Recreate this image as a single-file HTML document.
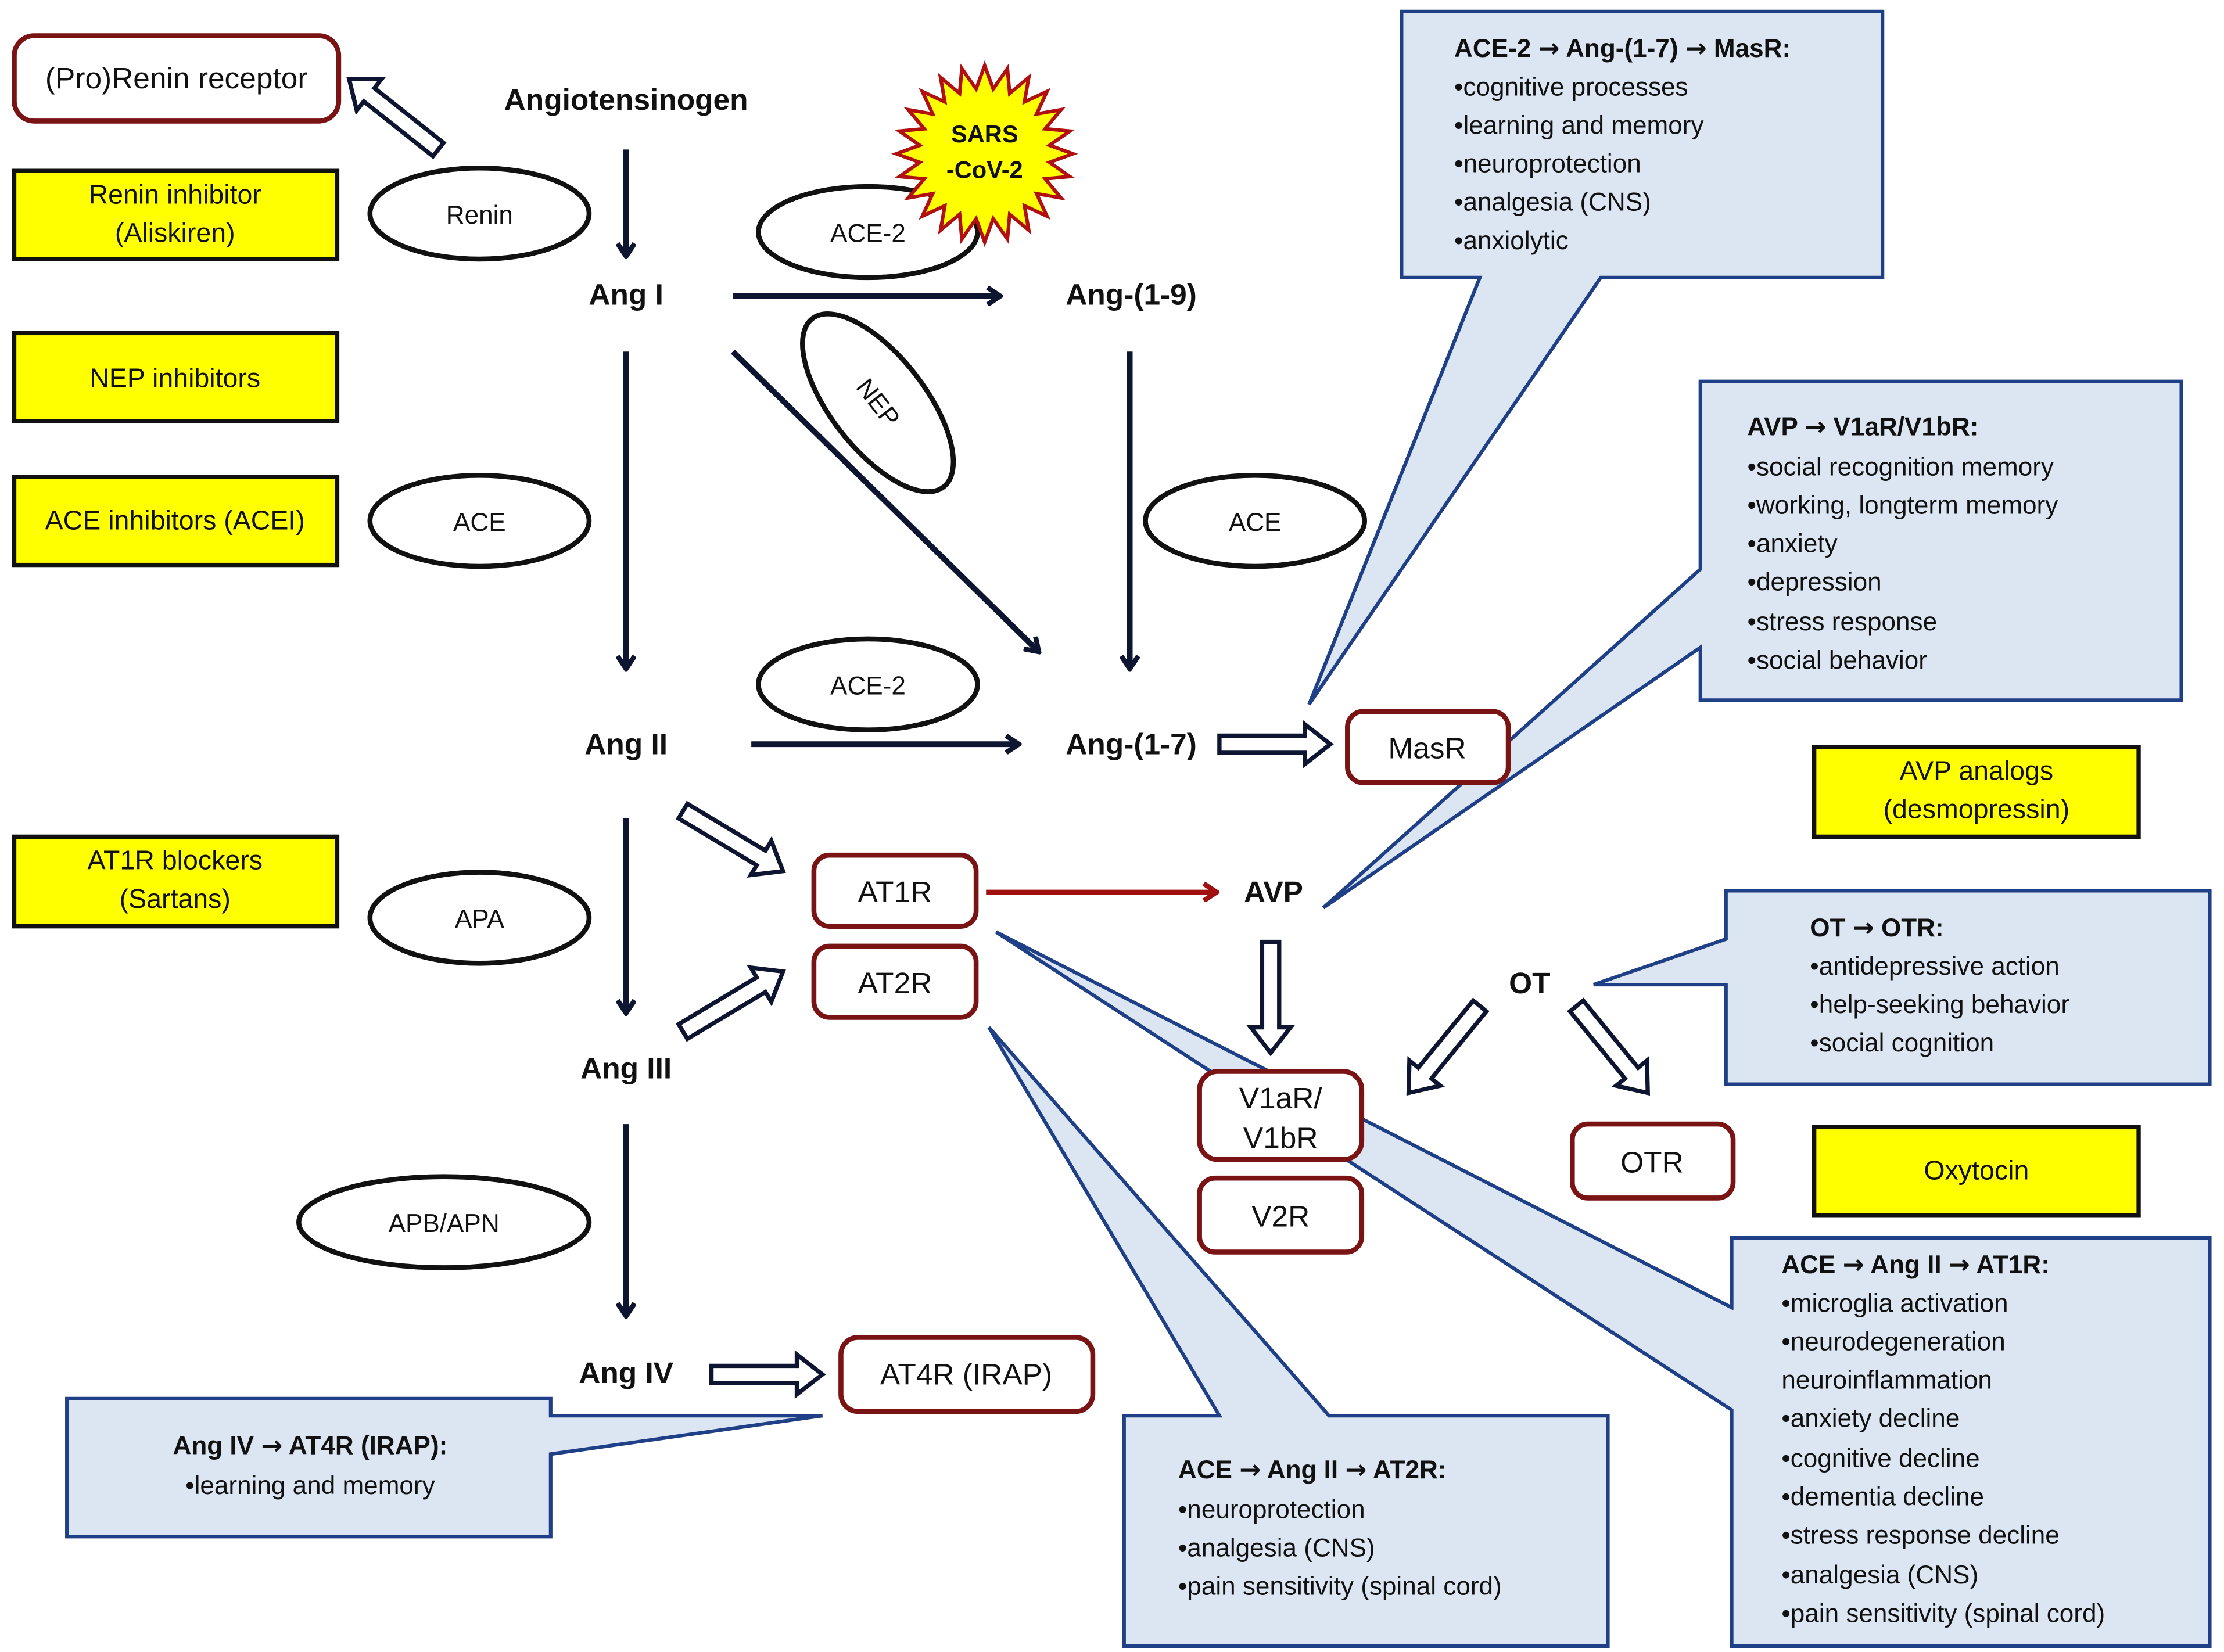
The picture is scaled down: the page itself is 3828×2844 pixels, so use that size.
<!DOCTYPE html>
<html><head><meta charset="utf-8"><style>
html,body{margin:0;padding:0;background:#fff;}
svg{display:block;}
text{font-family:"Liberation Sans",sans-serif;}
.ar{font-family:"DejaVu Sans",sans-serif;}
</style></head><body>
<svg width="3828" height="2844" viewBox="0 0 1563 1161" xmlns="http://www.w3.org/2000/svg">
<defs>
<marker id="ah" markerWidth="12" markerHeight="14" refX="10" refY="7" orient="auto" markerUnits="userSpaceOnUse">
<path d="M1,1 L10,7 L1,13" fill="none" stroke="#0d1530" stroke-width="3.5"/>
</marker>
<marker id="ahr" markerWidth="12" markerHeight="14" refX="10" refY="7" orient="auto" markerUnits="userSpaceOnUse">
<path d="M1,1 L10,7 L1,13" fill="none" stroke="#a01010" stroke-width="3.5"/>
</marker>
</defs>
<rect width="1563" height="1161" fill="#fff"/>

<!-- callouts -->
<g fill="#dce6f2" stroke="#1f3f86" stroke-width="2.5" stroke-linejoin="miter">
<polygon points="985,8 1323,8 1323,195 1125,195 920,495 1040,195 985,195"/>
<polygon points="1195,268 1533,268 1533,492 1195,492 1195,455 930,638 1195,400"/>
<polygon points="1213,626 1553,626 1553,762 1213,762 1213,692 1120,692 1213,660"/>
<polygon points="1217,870 1553,870 1553,1157 1217,1157 1217,991 700,655 1217,919"/>
<polygon points="790,995 857,995 695,722 934,995 1130,995 1130,1157 790,1157"/>
<polygon points="47,983 387,983 387,995 578,995 387,1022 387,1080 47,1080"/>
</g>

<g font-size="18" fill="#111">
<text x="1022" y="40" font-weight="bold">ACE-2 <tspan class="ar">→</tspan> Ang-(1-7) <tspan class="ar">→</tspan> MasR:</text>
<text x="1022" y="67">•cognitive processes</text>
<text x="1022" y="94">•learning and memory</text>
<text x="1022" y="121">•neuroprotection</text>
<text x="1022" y="148">•analgesia (CNS)</text>
<text x="1022" y="175">•anxiolytic</text>

<text x="1228" y="306" font-weight="bold">AVP <tspan class="ar">→</tspan> V1aR/V1bR:</text>
<text x="1228" y="334">•social recognition memory</text>
<text x="1228" y="361">•working, longterm memory</text>
<text x="1228" y="388">•anxiety</text>
<text x="1228" y="415">•depression</text>
<text x="1228" y="443">•stress response</text>
<text x="1228" y="470">•social behavior</text>

<text x="1272" y="658" font-weight="bold">OT <tspan class="ar">→</tspan> OTR:</text>
<text x="1272" y="685">•antidepressive action</text>
<text x="1272" y="712">•help-seeking behavior</text>
<text x="1272" y="739">•social cognition</text>

<text x="1252" y="895" font-weight="bold">ACE <tspan class="ar">→</tspan> Ang II <tspan class="ar">→</tspan> AT1R:</text>
<text x="1252" y="922">•microglia activation</text>
<text x="1252" y="949">•neurodegeneration</text>
<text x="1252" y="976">neuroinflammation</text>
<text x="1252" y="1003">•anxiety decline</text>
<text x="1252" y="1031">•cognitive decline</text>
<text x="1252" y="1058">•dementia decline</text>
<text x="1252" y="1085">•stress response decline</text>
<text x="1252" y="1113">•analgesia (CNS)</text>
<text x="1252" y="1140">•pain sensitivity (spinal cord)</text>

<text x="828" y="1039" font-weight="bold">ACE <tspan class="ar">→</tspan> Ang II <tspan class="ar">→</tspan> AT2R:</text>
<text x="828" y="1067">•neuroprotection</text>
<text x="828" y="1094">•analgesia (CNS)</text>
<text x="828" y="1121">•pain sensitivity (spinal cord)</text>

<text x="218" y="1022" font-weight="bold" text-anchor="middle">Ang IV  <tspan class="ar">→</tspan> AT4R (IRAP):</text>
<text x="218" y="1050" text-anchor="middle">•learning and memory</text>
</g>

<!-- yellow boxes -->
<g fill="#ffff00" stroke="#111" stroke-width="3">
<rect x="10" y="120" width="227" height="62"/>
<rect x="10" y="234" width="227" height="62"/>
<rect x="10" y="335" width="227" height="62"/>
<rect x="10" y="588" width="227" height="63"/>
<rect x="1275" y="525" width="228" height="63"/>
<rect x="1275" y="792" width="228" height="62"/>
</g>
<g font-size="19" fill="#111" text-anchor="middle">
<text x="123" y="143">Renin inhibitor</text>
<text x="123" y="170">(Aliskiren)</text>
<text x="123" y="272">NEP inhibitors</text>
<text x="123" y="372">ACE inhibitors (ACEI)</text>
<text x="123" y="611">AT1R blockers</text>
<text x="123" y="638">(Sartans)</text>
<text x="1389" y="548">AVP analogs</text>
<text x="1389" y="575">(desmopressin)</text>
<text x="1389" y="829">Oxytocin</text>
</g>

<!-- ellipses -->
<g fill="#fff" stroke="#111" stroke-width="3.5">
<ellipse cx="337" cy="150" rx="77" ry="32"/>
<ellipse cx="610" cy="163" rx="77" ry="32"/>
<ellipse cx="617" cy="283" rx="75" ry="33" transform="rotate(52 617 283)"/>
<ellipse cx="337" cy="366" rx="77" ry="32"/>
<ellipse cx="882" cy="366" rx="77" ry="32"/>
<ellipse cx="610" cy="481" rx="77" ry="32"/>
<ellipse cx="337" cy="645" rx="77" ry="32"/>
<ellipse cx="312" cy="859" rx="102" ry="32"/>
</g>
<g font-size="18" fill="#111" text-anchor="middle">
<text x="337" y="157">Renin</text>
<text x="610" y="170">ACE-2</text>
<text x="617" y="289" transform="rotate(52 617 283)">NEP</text>
<text x="337" y="373">ACE</text>
<text x="882" y="373">ACE</text>
<text x="610" y="488">ACE-2</text>
<text x="337" y="652">APA</text>
<text x="312" y="866">APB/APN</text>
</g>

<!-- SARS star -->
<polygon fill="#ffff00" stroke="#b01010" stroke-width="2.5" transform="translate(692,108)" points="62,0 45.6,6 59.9,16 42.5,17.6 53.7,31 36.5,28 43.8,43.8 28,36.5 31,53.7 17.6,42.5 16,59.9 6,45.6 0,62 -6,45.6 -16,59.9 -17.6,42.5 -31,53.7 -28,36.5 -43.8,43.8 -36.5,28 -53.7,31 -42.5,17.6 -59.9,16 -45.6,6 -62,0 -45.6,-6 -59.9,-16 -42.5,-17.6 -53.7,-31 -36.5,-28 -43.8,-43.8 -28,-36.5 -31,-53.7 -17.6,-42.5 -16,-59.9 -6,-45.6 0,-62 6,-45.6 16,-59.9 17.6,-42.5 31,-53.7 28,-36.5 43.8,-43.8 36.5,-28 53.7,-31 42.5,-17.6 59.9,-16 45.6,-6"/>
<text x="692" y="100" font-size="17" font-weight="bold" text-anchor="middle" fill="#111">SARS</text>
<text x="692" y="125" font-size="17" font-weight="bold" text-anchor="middle" fill="#111">-CoV-2</text>

<!-- black arrows -->
<g stroke="#0d1530" stroke-width="4" fill="none" marker-end="url(#ah)">
<line x1="440" y1="105" x2="440" y2="180"/>
<line x1="440" y1="247" x2="440" y2="470"/>
<line x1="440" y1="575" x2="440" y2="712"/>
<line x1="440" y1="790" x2="440" y2="925"/>
<line x1="515" y1="208" x2="703" y2="208"/>
<line x1="528" y1="523" x2="716" y2="523"/>
<line x1="794" y1="247" x2="794" y2="470"/>
<line x1="515" y1="247" x2="730" y2="458"/>
</g>
<line x1="693" y1="627" x2="855" y2="627" stroke="#a01010" stroke-width="3.5" marker-end="url(#ahr)"/>

<!-- hollow arrows -->
<g fill="#fff" stroke="#0d1530" stroke-width="3" stroke-linejoin="miter">
<polygon points="0,-6 62,-6 62,-14 80,0 62,14 62,6 0,6" transform="translate(308,105) rotate(218.4)"/>
<polygon points="0,-6 60,-6 60,-14 78,0 60,14 60,6 0,6" transform="translate(857,523)"/>
<polygon points="0,-6 64,-6 64,-14 82,0 64,14 64,6 0,6" transform="translate(480,570) rotate(31)"/>
<polygon points="0,-6 64,-6 64,-14 82,0 64,14 64,6 0,6" transform="translate(480,725) rotate(-31)"/>
<polygon points="0,-6 60,-6 60,-14 78,0 60,14 60,6 0,6" transform="translate(500,966)"/>
<polygon points="0,-6 60,-6 60,-14 78,0 60,14 60,6 0,6" transform="translate(893,662) rotate(90)"/>
<polygon points="0,-6 61,-6 61,-14 79,0 61,14 61,6 0,6" transform="translate(1040,707) rotate(129.3)"/>
<polygon points="0,-6 61,-6 61,-14 79,0 61,14 61,6 0,6" transform="translate(1108,707) rotate(50.7)"/>
</g>

<!-- red rounded boxes -->
<g fill="#fff" stroke="#7a1414" stroke-width="3.5">
<rect x="10" y="25" width="228" height="60" rx="14"/>
<rect x="947" y="500" width="113" height="50" rx="11"/>
<rect x="572" y="601" width="114" height="50" rx="11"/>
<rect x="572" y="665" width="114" height="50" rx="11"/>
<rect x="843" y="753" width="114" height="62" rx="13"/>
<rect x="843" y="828" width="114" height="52" rx="11"/>
<rect x="1105" y="790" width="113" height="52" rx="11"/>
<rect x="591" y="940" width="177" height="52" rx="12"/>
</g>
<g font-size="21" fill="#111" text-anchor="middle">
<text x="124" y="62">(Pro)Renin receptor</text>
<text x="1003" y="533">MasR</text>
<text x="629" y="634">AT1R</text>
<text x="629" y="698">AT2R</text>
<text x="900" y="779">V1aR/</text>
<text x="900" y="807">V1bR</text>
<text x="900" y="862">V2R</text>
<text x="1161" y="824">OTR</text>
<text x="679" y="973">AT4R (IRAP)</text>
</g>

<!-- main labels -->
<g font-size="21" font-weight="bold" fill="#111" text-anchor="middle">
<text x="440" y="77">Angiotensinogen</text>
<text x="440" y="214">Ang I</text>
<text x="795" y="214">Ang-(1-9)</text>
<text x="440" y="530">Ang II</text>
<text x="795" y="530">Ang-(1-7)</text>
<text x="440" y="758">Ang III</text>
<text x="440" y="972">Ang IV</text>
<text x="895" y="634">AVP</text>
<text x="1075" y="698">OT</text>
</g>
</svg>
</body></html>
